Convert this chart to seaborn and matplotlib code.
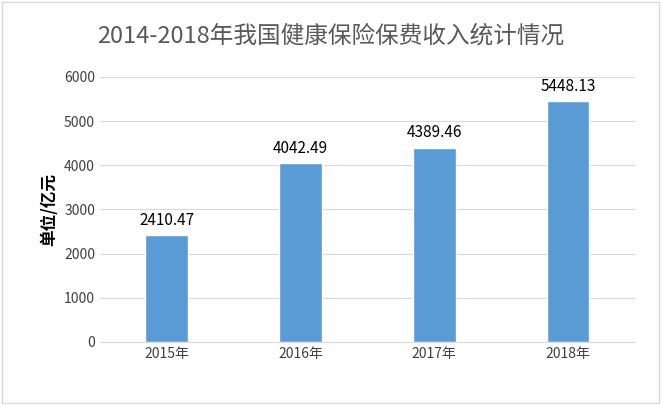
import matplotlib
matplotlib.use("Agg")
import matplotlib.pyplot as plt
import seaborn as sns
import pandas as pd
from matplotlib.patches import Rectangle

years = ["2015年", "2016年", "2017年", "2018年"]
values = [2410.47, 4042.49, 4389.46, 5448.13]
yticks = [0, 1000, 2000, 3000, 4000, 5000, 6000]

sns.set_style("white")
plt.rcParams['font.family'] = ['Noto Sans CJK SC', 'DejaVu Sans']

fig = plt.figure(figsize=(6.62, 4.05), dpi=100)
ax = fig.add_axes([0.151, 0.156, 0.808, 0.654])
df = pd.DataFrame({"year": years, "value": values})
sns.barplot(data=df, x="year", y="value", color="#5B9BD5", saturation=1, width=0.32, ax=ax)
ax.set_ylim(0, 6000)
ax.set_yticks(yticks)
ax.set_yticklabels([str(t) for t in yticks], fontsize=10, color="#404040")
ax.tick_params(axis='x', labelsize=10, labelcolor="#404040", length=0)
ax.tick_params(axis='y', length=0)
ax.grid(axis='y', color="#D9D9D9", linewidth=0.8)
ax.set_axisbelow(True)
for s in ["top", "right", "left"]:
    ax.spines[s].set_visible(False)
ax.spines["bottom"].set_color("#D9D9D9")
ax.set_xlabel("")
ax.set_ylabel("单位/亿元", fontsize=12, fontweight="bold", color="#000000")
for i, v in enumerate(values):
    ax.text(i, v + 150, f"{v:.2f}", ha="center", va="bottom", fontsize=11, color="#000000")
fig.text(0.5, 0.91, "2014-2018年我国健康保险保费收入统计情况", ha="center", va="center", fontsize=17, color="#595959")
fig.patches.append(Rectangle((0.003, 0.005), 0.992, 0.99, transform=fig.transFigure, fill=False, edgecolor="#D9D9D9", linewidth=1))
fig.savefig("out.png", dpi=100)
